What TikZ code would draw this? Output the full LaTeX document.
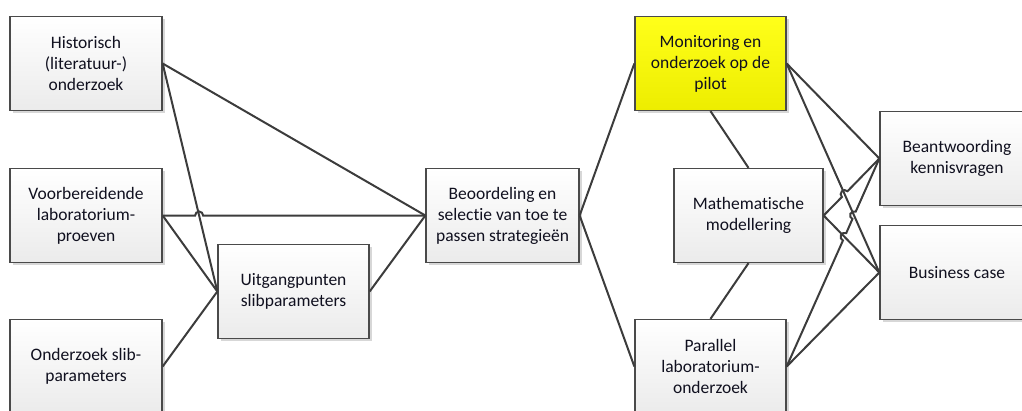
\documentclass[tikz,border=0pt]{standalone}
\usepackage{fontspec}
\setmainfont[Ligatures=NoCommon]{Carlito}
\usetikzlibrary{calc,shadows}
\definecolor{edgec}{HTML}{4A4A4A}
\definecolor{connc}{HTML}{3C3C3C}
\definecolor{boxbot}{HTML}{EBEBEB}
\definecolor{txtc}{HTML}{10101F}
\definecolor{ytop}{HTML}{FFFF1A}
\definecolor{ybot}{HTML}{EDED00}
\newcommand\hopto[3]{% current path continues from #1 to #2, hop at coordinate #3
  let \p1=($(#2)-(#1)$), \n1={atan2(\y1,\x1)} in
  -- ($(#3)!4pt!(#1)$) arc[start angle=\n1+180, end angle=\n1, radius=4pt]}
\begin{document}
\begin{tikzpicture}[x=1pt,y=-1pt,
  box/.style={draw=edgec, line width=1.3pt, top color=white, bottom color=boxbot,
    minimum width=152pt, minimum height=94pt, align=center, text=txtc,
    font=\fontsize{17.5}{21}\selectfont, inner sep=2pt,
    drop shadow={shadow xshift=2.5pt, shadow yshift=-2.5pt, fill=gray!70, opacity=0.45}},
  ybox/.style={box, top color=ytop, bottom color=ybot},
  conn/.style={draw=connc, line width=2pt}]
\useasboundingbox (0,0) rectangle (1022,410);
\clip (0,0) rectangle (1022,410);
% nodes
\node[box] (hist) at (86,63.5) {Historisch\\(literatuur-)\\onderzoek};
\node[box] (voor) at (86,215.5) {Voorbereidende\\laboratorium-\\proeven};
\node[box] (slib) at (86,366.5) {Onderzoek slib-\\parameters};
\node[box, minimum width=151pt] (uitg) at (293.5,291.5) {Uitgangpunten\\slibparameters};
\node[box, minimum width=153pt] (beoo) at (502.5,215.5) {Beoordeling en\\selectie van toe te\\passen strategieën};
\node[ybox, minimum width=151pt] (moni) at (710.5,63.5) {Monitoring en\\onderzoek op de\\pilot};
\node[box, minimum width=149pt] (math) at (748.5,215.5) {Mathematische\\modellering};
\node[box, minimum width=151pt] (para) at (710.5,366.5) {Parallel\\laboratorium-\\onderzoek};
\node[box, minimum width=154pt] (bean) at (957,158.5) {Beantwoording\\kennisvragen};
\node[box, minimum width=154pt] (busi) at (957,272.5) {Business case};
% crossing points
\coordinate (x1) at (intersection of hist.east--uitg.west and voor.east--beoo.west);
\coordinate (x2) at (intersection of moni.east--busi.west and math.east--bean.west);
\coordinate (x3) at (intersection of math.east--busi.west and para.east--bean.west);
\coordinate (x4) at (intersection of moni.east--busi.west and para.east--bean.west);
% connectors left
\draw[conn] (hist.east) -- (beoo.west);
\draw[conn] (hist.east) -- (uitg.west);
\draw[conn] (voor.east) \hopto{voor.east}{beoo.west}{x1} -- (beoo.west);
\draw[conn] (voor.east) -- (uitg.west);
\draw[conn] (slib.east) -- (uitg.west);
\draw[conn] (uitg.east) -- (beoo.west);
% middle
\draw[conn] (beoo.east) -- (moni.west);
\draw[conn] (beoo.east) -- (para.west);
\draw[conn] (moni.south) -- (math.north);
\draw[conn] (math.south) -- (para.north);
% right
\draw[conn] (moni.east) -- (bean.west);
\draw[conn] (moni.east) -- (busi.west);
\draw[conn] (math.east) \hopto{math.east}{bean.west}{x2} -- (bean.west);
\draw[conn] (math.east) -- (busi.west);
\draw[conn] (para.east) \hopto{para.east}{bean.west}{x3} \hopto{para.east}{bean.west}{x4} -- (bean.west);
\draw[conn] (para.east) -- (busi.west);
\end{tikzpicture}
\end{document}
